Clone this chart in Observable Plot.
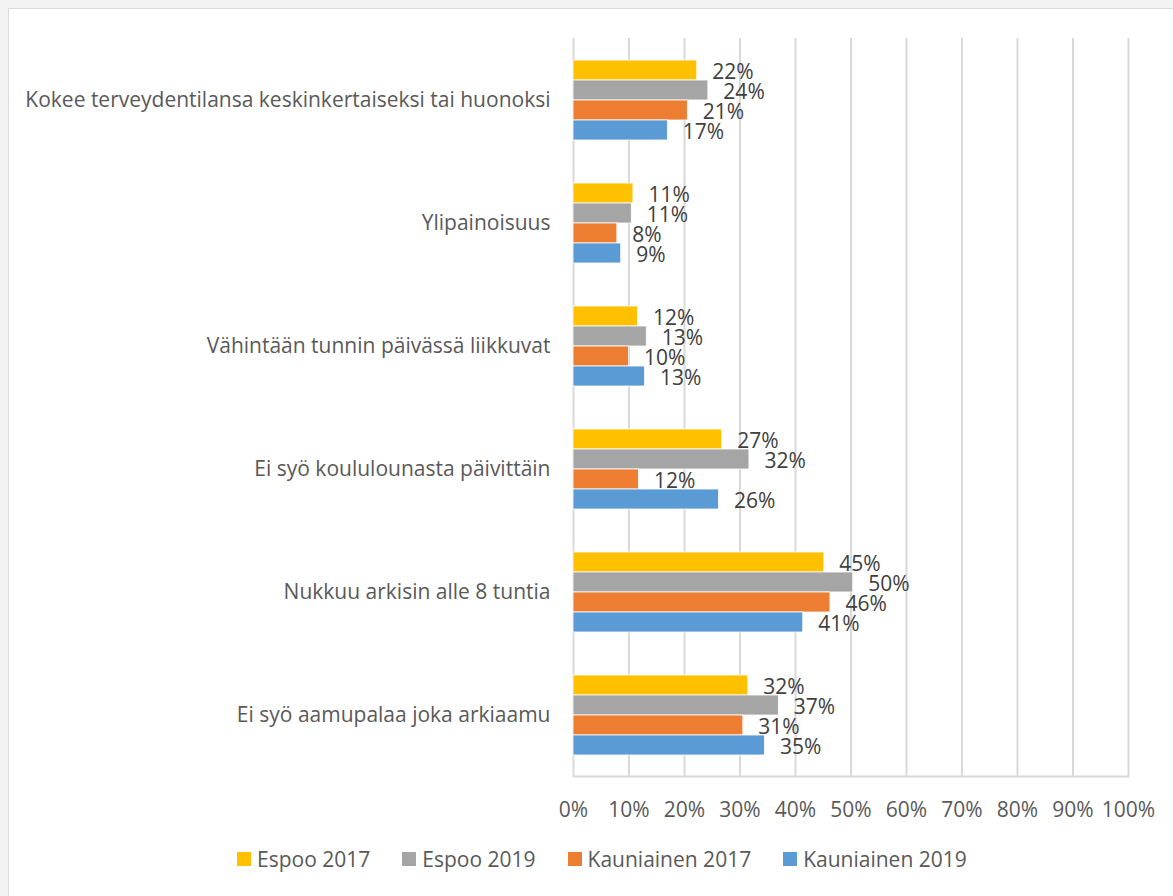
<!DOCTYPE html>
<html>
<head>
<meta charset="utf-8">
<script src="https://cdn.jsdelivr.net/npm/d3@7"></script>
<script src="https://cdn.jsdelivr.net/npm/@observablehq/plot@0.6"></script>
<style>
  html, body { margin: 0; padding: 0; background: #f3f3f3; }
  #frame { position: absolute; left: 8px; top: 8px; width: 1164px; height: 888px; background: #fff; border-top: 1px solid #dcdcdc; border-left: 1px solid #dcdcdc; font-family: "Open Sans", sans-serif; }
  #legend { position: absolute; left: 228px; top: 836px; display: flex; align-items: center; font-size: 21px; color: #595959; }
  #legend .item { display: flex; align-items: center; margin-right: 32px; }
  #legend .sw { width: 14px; height: 14px; margin-right: 6px; }
</style>
</head>
<body>
<div id="frame"><div id="chart"></div><div id="legend"></div></div>
<script>
const categories = [
  "Kokee terveydentilansa keskinkertaiseksi tai huonoksi",
  "Ylipainoisuus",
  "Vähintään tunnin päivässä liikkuvat",
  "Ei syö koululounasta päivittäin",
  "Nukkuu arkisin alle 8 tuntia",
  "Ei syö aamupalaa joka arkiaamu"
];
const seriesNames = ["Espoo 2017", "Espoo 2019", "Kauniainen 2017", "Kauniainen 2019"];
const seriesColors = ["#FFC000", "#A5A5A5", "#ED7D31", "#5B9BD5"];
const espoo2017 = [22.3, 10.8, 11.6, 26.8, 45.2, 31.5];
const espoo2019 = [24.3, 10.5, 13.2, 31.7, 50.4, 37.0];
const kauniainen2017 = [20.6, 7.9, 10.0, 11.8, 46.3, 30.6];
const kauniainen2019 = [17.0, 8.6, 12.9, 26.2, 41.4, 34.5];
const xTicks = [0, 10, 20, 30, 40, 50, 60, 70, 80, 90, 100];

const seriesValues = [espoo2017, espoo2019, kauniainen2017, kauniainen2019];
const data = [];
categories.forEach((c, i) => {
  seriesNames.forEach((s, j) => {
    data.push({category: c, series: s, value: seriesValues[j][i]});
  });
});

const font = "'Open Sans', sans-serif";
const chart = Plot.plot({
  width: 1164,
  height: 819,
  marginLeft: 564,
  marginRight: 45,
  marginTop: 27,
  marginBottom: 50,
  style: {fontFamily: font, fontSize: "21px", color: "#595959", background: "white", overflow: "visible"},
  x: {domain: [0, 100], ticks: xTicks, tickFormat: d => d + "%", tickSize: 0, tickPadding: 26, label: null, line: true},
  fy: {domain: categories, padding: 0, label: null, tickSize: 0, tickPadding: 23},
  y: {domain: seriesNames, axis: null, paddingInner: 0, paddingOuter: 0.944},
  color: {domain: seriesNames, range: seriesColors},
  marks: [
    Plot.ruleX(xTicks, {stroke: "#d9d9d9", strokeWidth: 2}),
    Plot.barX(data, {fy: "category", y: "series", x: "value", fill: "series", stroke: "white", strokeWidth: 0.8}),
    Plot.text(data, {fy: "category", y: "series", x: "value", text: d => Math.round(d.value) + "%", textAnchor: "start", dx: 15, dy: 2, fill: "#404040", fontSize: 21})
  ]
});
chart.querySelectorAll("[aria-label*='frame'], [aria-label*='frame'] *, [aria-label*='x-axis'] line, [aria-label*='x-axis'] path, [aria-label*='x-axis'] rect").forEach(p => {
  p.setAttribute("stroke", "#d9d9d9");
  p.setAttribute("stroke-width", "2");
  p.style.stroke = "#d9d9d9";
});
document.getElementById("chart").appendChild(chart);

const legend = document.getElementById("legend");
seriesNames.forEach((s, i) => {
  const item = document.createElement("div");
  item.className = "item";
  const sw = document.createElement("div");
  sw.className = "sw";
  sw.style.background = seriesColors[i];
  const t = document.createElement("span");
  t.textContent = s;
  item.appendChild(sw);
  item.appendChild(t);
  legend.appendChild(item);
});
</script>
</body>
</html>
